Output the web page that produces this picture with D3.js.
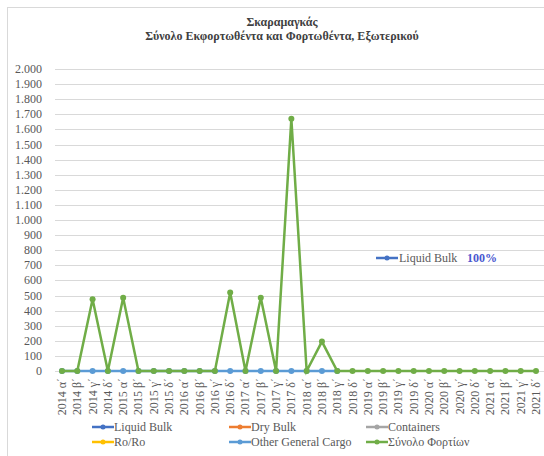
<!DOCTYPE html>
<meta charset="utf-8">
<style>
body { margin: 0; background: #fff; }
.grid line { stroke: #d9d9d9; stroke-width: 1px; }
.axis text { fill: #595959; font-size: 12px; }
</style>
<svg width="544" height="456" font-family="'Liberation Serif', 'Times New Roman', serif"></svg>
<script src="https://d3js.org/d3.v7.min.js"></script>
<script>
let svg = d3.select("svg");

let categories = ["2014 α΄","2014 β΄","2014 γ΄","2014 δ΄","2015 α΄","2015 β΄","2015 γ΄","2015 δ΄",
  "2016 α΄","2016 β΄","2016 γ΄","2016 δ΄","2017 α΄","2017 β΄","2017 γ΄","2017 δ΄",
  "2018 α΄","2018 β΄","2018 γ΄","2018 δ΄","2019 α΄","2019 β΄","2019 γ΄","2019 δ΄",
  "2020 α΄","2020 β΄","2020 γ΄","2020 δ΄","2021 α΄","2021 β΄","2021 γ΄","2021 δ΄"];

// Other General Cargo only reported up to 2018 γ΄
let otherGeneral = [0,0,0,0,0,0,0,0,0,0,0,0,0,0,0,0,0,0,0];
let total = [0,0,475,0,485,0,0,0,0,0,0,520,0,485,0,1670,0,195,0,0,0,0,0,0,0,0,0,0,0,0,0,0];

let yTicks = d3.range(0, 2001, 100);

let seriesNames = ["Liquid Bulk","Dry Bulk","Containers","Ro/Ro","Other General Cargo","Σύνολο Φορτίων"];
let seriesColors = ["#4472c4","#ed7d31","#a5a5a5","#ffc000","#5b9bd5","#70ad47"];

// frame
svg.append("rect").attr("x", 7.5).attr("y", 7.5).attr("width", 560).attr("height", 470)
  .attr("fill", "none").attr("stroke", "#d9d9d9");

// title
svg.append("text").attr("x", 282).attr("y", 26).attr("text-anchor", "middle")
  .attr("font-size", "12px").attr("font-weight", "bold").attr("fill", "#404040").text("Σκαραμαγκάς");
svg.append("text").attr("x", 282).attr("y", 39.5).attr("text-anchor", "middle")
  .attr("font-size", "12px").attr("font-weight", "bold").attr("fill", "#404040")
  .text("Σύνολο Εκφορτωθέντα και Φορτωθέντα, Εξωτερικού");

let x = d3.scalePoint().domain(categories).range([62, 536]);
let y = d3.scaleLinear().domain([0, 2000]).range([371, 69]);

let fmt = v => d3.format(",")(v).replace(/,/g, ".");

svg.append("g").attr("class", "grid")
  .selectAll("line").data(yTicks).enter().append("line")
  .attr("x1", 55).attr("x2", 544)
  .attr("y1", d => Math.round(y(d)) + 0.5).attr("y2", d => Math.round(y(d)) + 0.5);

svg.append("g").attr("class", "axis")
  .selectAll("text").data(yTicks).enter().append("text")
  .attr("x", 42).attr("y", d => y(d) + 4).attr("text-anchor", "end").text(fmt);

svg.append("g").attr("class", "axis")
  .selectAll("text").data(categories).enter().append("text")
  .attr("transform", d => "translate(" + (x(d) + 4) + ",378) rotate(-90)")
  .attr("text-anchor", "end").text(d => d);

let line = d3.line().x((d, i) => x(categories[i])).y(d => y(d));

function drawSeries(vals, color) {
  svg.append("path").datum(vals).attr("d", line)
    .attr("fill", "none").attr("stroke", color).attr("stroke-width", 2.5);
  svg.append("g").selectAll("circle").data(vals).enter().append("circle")
    .attr("cx", (d, i) => x(categories[i])).attr("cy", d => y(d))
    .attr("r", 3).attr("fill", color);
}
drawSeries(otherGeneral, seriesColors[4]);
drawSeries(total, seriesColors[5]);

// floating data label
let lab = svg.append("g").attr("transform", "translate(376,258)");
lab.append("line").attr("x1", 0).attr("x2", 22).attr("y1", 0).attr("y2", 0)
  .attr("stroke", seriesColors[0]).attr("stroke-width", 2.5);
lab.append("circle").attr("cx", 11).attr("cy", 0).attr("r", 2.5).attr("fill", seriesColors[0]);
lab.append("text").attr("x", 23).attr("y", 4).attr("font-size", "12px").attr("fill", "#595959").text("Liquid Bulk");
lab.append("text").attr("x", 91).attr("y", 4).attr("font-size", "12px").attr("font-weight", "bold")
  .attr("fill", "#4a57d0").text("100%");

// legend
let legend = svg.append("g").selectAll("g").data(seriesNames).enter().append("g")
  .attr("transform", (d, i) => "translate(" + (92 + (i % 3) * 137) + "," + (427 + 15 * Math.floor(i / 3)) + ")");
legend.append("line").attr("x1", 0).attr("x2", 22).attr("y1", 0).attr("y2", 0)
  .attr("stroke", (d, i) => seriesColors[i]).attr("stroke-width", 2.5);
legend.append("circle").attr("cx", 11).attr("cy", 0).attr("r", 2.5).attr("fill", (d, i) => seriesColors[i]);
legend.append("text").attr("x", 22).attr("y", 4).attr("font-size", "12px").attr("fill", "#595959").text(d => d);
</script>
